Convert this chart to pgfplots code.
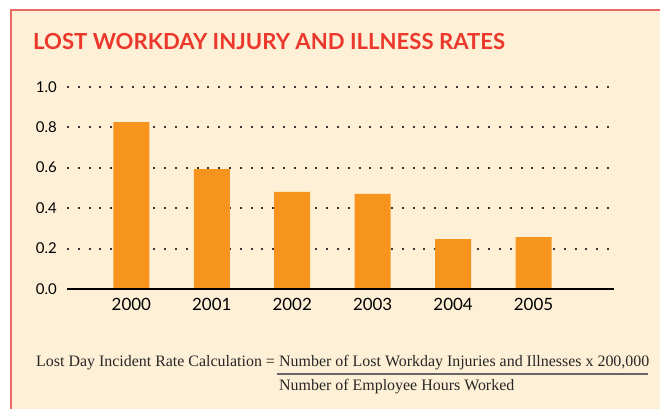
\documentclass[border=0pt]{standalone}
\usepackage{fontspec}
\usepackage{pgfplots}
\pgfplotsset{compat=1.18}
\newfontfamily\lato{Lato}
\newfontfamily\serifF{Liberation Serif}
\definecolor{bgc}{RGB}{254,240,214}
\definecolor{bordc}{RGB}{232,104,104}
\definecolor{titlec}{RGB}{236,56,44}
\definecolor{barc}{RGB}{247,148,30}
\definecolor{gridc}{RGB}{55,55,55}
\begin{document}
\begin{tikzpicture}
\path[use as bounding box] (0bp,0bp) rectangle (660bp,409bp);
\fill[bgc] (11bp,0bp) rectangle (660bp,399bp);
\draw[bordc, line width=2bp] (11bp,-2bp) -- (11bp,399bp) -- (662bp,399bp);
\node[anchor=base west, inner sep=0pt, text=titlec, font={\lato\bfseries\fontsize{22.2}{22.2}\selectfont}] at (33bp,359bp) {LOST WORKDAY INJURY AND ILLNESS RATES};
\begin{axis}[
  at={(67bp,120bp)}, anchor=south west,
  scale only axis, width=547bp, height=202.3bp,
  xmin=-0.8, xmax=6.0, ymin=0, ymax=1,
  axis line style={draw=none},
  major tick length=0pt,
  xtick={0,1,2,3,4,5},
  xticklabels={2000,2001,2002,2003,2004,2005},
  ytick={0,0.2,0.4,0.6,0.8,1.0},
  yticklabels={0.0,0.2,0.4,0.6,0.8,1.0},
  ymajorgrids,
  major grid style={gridc, line width=2bp, dash pattern=on 2bp off 8.8bp},
  yticklabel style={anchor=east, inner sep=0pt, xshift=-10bp, font={\lato\fontsize{15}{15}\selectfont}, text=black},
  xticklabel style={anchor=north, inner sep=0pt, yshift=-9bp, font={\lato\fontsize{17}{17}\selectfont}, text=black},
  clip=false,
]
\addplot[ybar, bar width=36bp, bar shift=0pt, fill=barc, draw=none] coordinates {
  (0,0.825) (1,0.593) (2,0.480) (3,0.470) (4,0.247) (5,0.257)
};
\draw[black, line width=2.6bp] (axis cs:-0.8,0) -- (axis cs:6.0,0);
\end{axis}
\node[anchor=base west, inner sep=0pt, font={\serifF\fontsize{16}{16}\selectfont}, text=black!85] at (36bp,42bp) {Lost Day Incident Rate Calculation =};
\node[anchor=base west, inner sep=0pt, font={\serifF\fontsize{16}{16}\selectfont}, text=black!85] at (279bp,42bp) {Number of Lost Workday Injuries and Illnesses x 200,000};
\draw[black!60, line width=1.3bp] (277bp,35bp) -- (648bp,35bp);
\node[anchor=base west, inner sep=0pt, font={\serifF\fontsize{16}{16}\selectfont}, text=black!85] at (279bp,19bp) {Number of Employee Hours Worked};
\end{tikzpicture}
\end{document}
